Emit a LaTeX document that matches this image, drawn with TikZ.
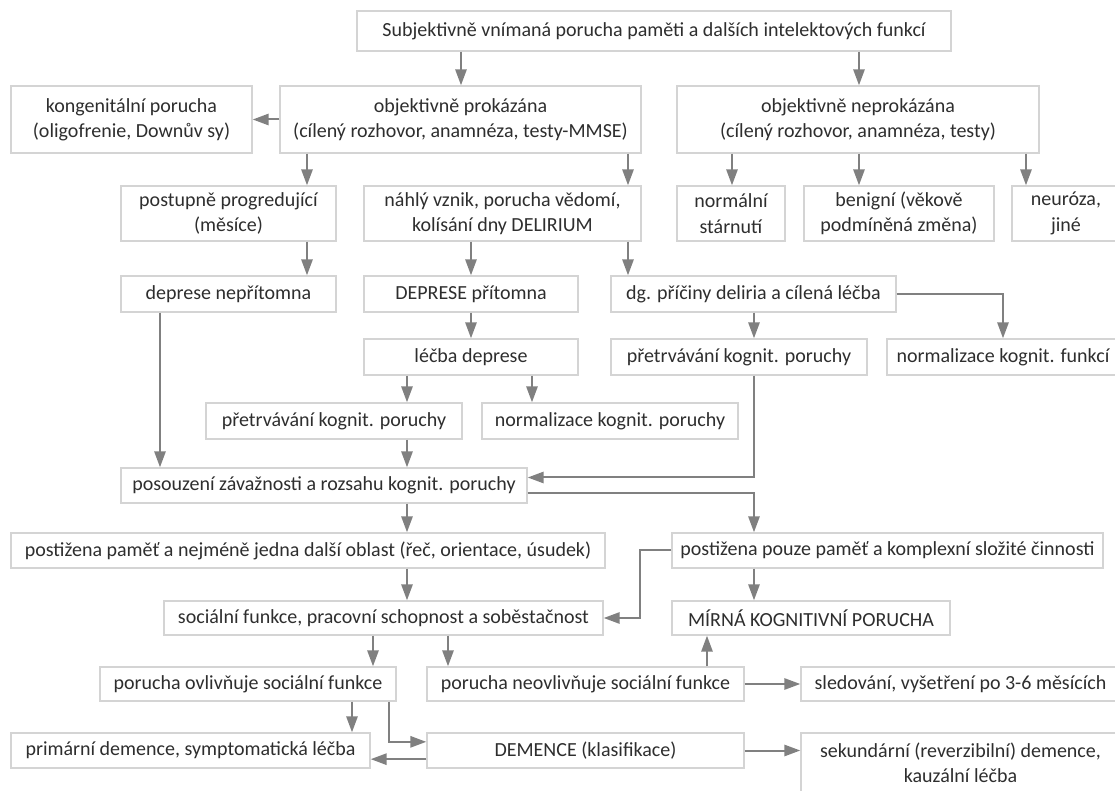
\documentclass[tikz,border=0pt]{standalone}
\usepackage{fontspec}
\setmainfont{Carlito}
\usetikzlibrary{arrows.meta,calc}
\definecolor{boxgray}{HTML}{D4D4D4}
\definecolor{arrgray}{HTML}{808080}
\definecolor{txtgray}{HTML}{2E2E2E}
\newcommand{\mybox}[6]{\node[bx, minimum width=#4*0.75pt, minimum height=#5*0.75pt] (#1) at (#2,#3) {#6};}
\begin{document}
\begin{tikzpicture}[x=0.75pt,y=-0.75pt,
  bx/.style={draw=boxgray, line width=1.1pt, inner sep=0pt, text=txtgray, align=center, font=\fontsize{15}{19}\selectfont},
  arr/.style={draw=arrgray, line width=1.5pt, -{Triangle[length=12pt,width=8.5pt]}},
  ln/.style={draw=arrgray, line width=1.5pt}]
\useasboundingbox (0,0) rectangle (1115,791);
\clip (0,0) rectangle (1115,791);
\fill[white] (0,0) rectangle (1115,791);
% columns
\foreach \c in {160,307,352,373,389,407,448,461,471,532,628,640,707,732,754,859,1003,1026}{\coordinate (c\c) at (\c,0);}
% boxes
\mybox{top}{654}{31}{594}{40}{Subjektivně vnímaná porucha paměti a dalších intelektových funkcí}
\mybox{kong}{131.5}{119.5}{241}{67}{kongenitální porucha\\(oligofrenie, Downův sy)}
\mybox{prok}{460.5}{119.5}{361}{67}{objektivně prokázána\\(cílený rozhovor, anamnéza, testy-MMSE)}
\mybox{neprok}{858}{119.5}{362}{67}{objektivně neprokázána\\(cílený rozhovor, anamnéza, testy)}
\mybox{postupne}{228.5}{213.5}{215}{55}{postupně progredující\\(měsíce)}
\mybox{nahly}{502.5}{213.5}{277}{55}{náhlý vznik, porucha vědomí,\\kolísání dny DELIRIUM}
\mybox{normalni}{731}{213.5}{108}{55}{normální\\stárnutí}
\mybox{benigni}{899}{213.5}{190}{55}{benigní (věkově\\podmíněná změna)}
\mybox{neuroza}{1066}{213.5}{108}{55}{neuróza,\\jiné}
\mybox{depN}{228.5}{294}{215}{36}{deprese nepřítomna}
\mybox{depP}{471}{294}{214}{36}{DEPRESE přítomna}
\mybox{dg}{753.5}{294}{285}{36}{dg. příčiny deliria a cílená léčba}
\mybox{lecba}{471}{357}{214}{36}{léčba deprese}
\mybox{pretrvR}{739}{357}{256}{36}{přetrvávání kognit. poruchy}
\mybox{normF}{1003}{357}{232}{36}{normalizace kognit. funkcí}
\mybox{pretrvL}{334}{421}{256}{36}{přetrvávání kognit. poruchy}
\mybox{normP}{610}{421}{256}{36}{normalizace kognit. poruchy}
\mybox{posouzeni}{324}{485.5}{406}{35}{posouzení závažnosti a rozsahu kognit. poruchy}
\mybox{postPamet}{308}{550.5}{594}{35}{postižena paměť a nejméně jedna další oblast (řeč, orientace, úsudek)}
\mybox{postPouze}{887.5}{550.5}{431}{35}{postižena pouze paměť a komplexní složité činnosti}
\mybox{socialni}{383.5}{618}{439}{34}{sociální funkce, pracovní schopnost a soběstačnost}
\mybox{mirna}{811}{618}{278}{34}{MÍRNÁ KOGNITIVNÍ PORUCHA}
\mybox{ovlivnuje}{248}{684}{296}{34}{porucha ovlivňuje sociální funkce}
\mybox{neovlivnuje}{585.5}{684}{317}{34}{porucha neovlivňuje sociální funkce}
\mybox{sledovani}{960.5}{684}{319}{34}{sledování, vyšetření po 3-6 měsících}
\mybox{primarni}{190.5}{750.5}{359}{35}{primární demence, symptomatická léčba}
\mybox{demence}{585.5}{750.5}{317}{35}{DEMENCE (klasifikace)}
\mybox{sekundarni}{960.5}{763}{319}{60}{sekundární (reverzibilní) demence,\\kauzální léčba}
% connectors
\draw[arr] (top.south -| c461) -- (prok.north -| c461);
\draw[arr] (top.south -| c859) -- (neprok.north -| c859);
\draw[arr] (prok.west) -- (kong.east);
\draw[arr] (prok.south -| c307) -- (postupne.north -| c307);
\draw[arr] (prok.south -| c628) -- (nahly.north -| c628);
\draw[arr] (neprok.south -| c732) -- (normalni.north -| c732);
\draw[arr] (neprok.south -| c859) -- (benigni.north -| c859);
\draw[arr] (neprok.south -| c1026) -- (neuroza.north -| c1026);
\draw[arr] (postupne.south -| c307) -- (depN.north -| c307);
\draw[arr] (nahly.south -| c471) -- (depP.north);
\draw[arr] (nahly.south -| c628) -- (dg.north -| c628);
\draw[arr] (dg.east) -| (normF.north -| c1003);
\draw[arr] (dg.south -| c754) -- (pretrvR.north -| c754);
\draw[arr] (depP.south) -- (lecba.north);
\draw[arr] (lecba.south -| c407) -- (pretrvL.north -| c407);
\draw[arr] (lecba.south -| c532) -- (normP.north -| c532);
\draw[arr] (depN.south -| c160) -- (posouzeni.north -| c160);
\draw[arr] (pretrvL.south -| c407) -- (posouzeni.north -| c407);
\draw[arr] (pretrvR.south -| c754) |- ([yshift=6pt]posouzeni.east);
\draw[arr] ([yshift=-6pt]posouzeni.east) -| (postPouze.north -| c754);
\draw[arr] (posouzeni.south -| c407) -- (postPamet.north -| c407);
\draw[arr] (postPamet.south -| c407) -- (socialni.north -| c407);
\draw[arr] (postPouze.south -| c754) -- (mirna.north -| c754);
\draw[arr] (postPouze.west) -- (postPouze.west -| c640) |- (socialni.east);
\draw[arr] (socialni.south -| c373) -- (ovlivnuje.north -| c373);
\draw[arr] (socialni.south -| c448) -- (neovlivnuje.north -| c448);
\draw[arr] (neovlivnuje.north -| c707) -- (mirna.south -| c707);
\draw[arr] (neovlivnuje.east) -- (sledovani.west);
\draw[arr] (ovlivnuje.south -| c352) -- (primarni.north -| c352);
\draw[arr] (ovlivnuje.south -| c389) |- ([yshift=6.5pt]demence.west);
\draw[arr] ([yshift=-6.5pt]demence.west) -- ([yshift=-6.5pt]primarni.east);
\draw[arr] (demence.east) -- (sekundarni.west |- demence.east);
\end{tikzpicture}
\end{document}
